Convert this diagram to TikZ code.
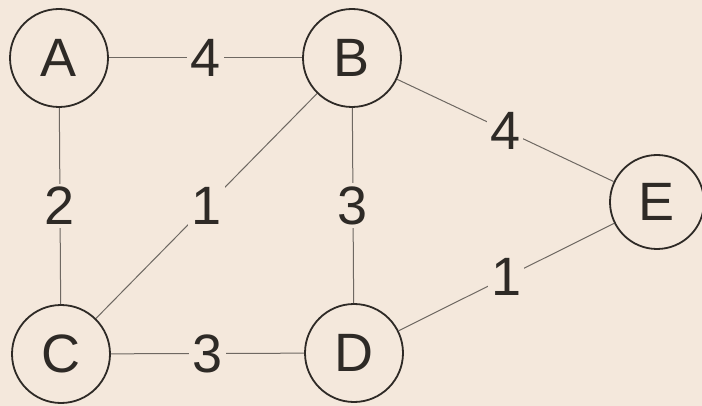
\documentclass[tikz,border=0pt]{standalone}
\usepackage{fontspec}
\setmainfont{Liberation Sans}
\definecolor{paper}{HTML}{F4E8DC}
\definecolor{ink}{HTML}{2E2A26}
\definecolor{edgeink}{HTML}{6E6862}
\begin{document}
\begin{tikzpicture}[x=1pt,y=-1pt,
  vertex/.style={circle,draw=ink,line width=1.8pt,minimum size=98pt,inner sep=0pt,
    font=\fontsize{54}{54}\selectfont,text=ink},
  edgeline/.style={draw=edgeink,line width=1pt},
  lbl/.style={fill=paper,inner sep=3pt,font=\fontsize{54}{54}\selectfont,text=ink}]
\fill[paper] (0,0) rectangle (702,406);
\useasboundingbox (0,0) rectangle (702,406);
\node[vertex] (A) at (59,58) {A};
\node[vertex] (B) at (352,58) {B};
\node[vertex] (C) at (61,354) {C};
\node[vertex] (D) at (354,353) {D};
\node[vertex,minimum size=94pt] (E) at (657,202) {E};
\draw[edgeline] (A) -- node[lbl] {4} (B);
\draw[edgeline] (A) -- node[lbl] {2} (C);
\draw[edgeline] (C) -- node[lbl] {1} (B);
\draw[edgeline] (B) -- node[lbl] {3} (D);
\draw[edgeline] (C) -- node[lbl] {3} (D);
\draw[edgeline] (B) -- node[lbl] {4} (E);
\draw[edgeline] (D) -- node[lbl] {1} (E);
\end{tikzpicture}
\end{document}
